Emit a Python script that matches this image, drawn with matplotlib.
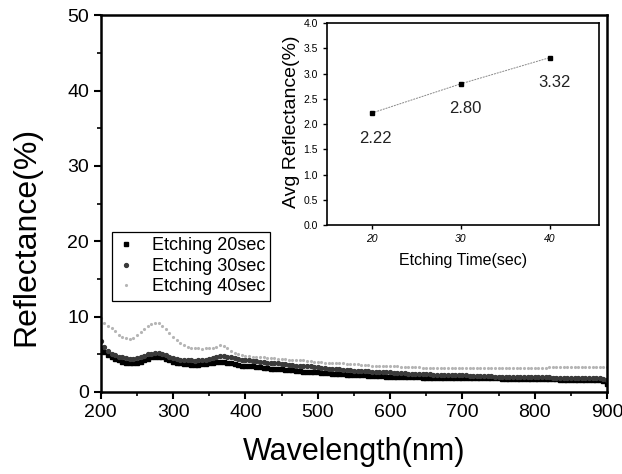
import numpy as np
import matplotlib
matplotlib.use('Agg')
import matplotlib.pyplot as plt

plt.rcParams['font.family'] = ['Liberation Sans', 'DejaVu Sans']

# wavelength grid of the spectra (nm), one reading every 5 nm
wavelength = np.arange(200, 905, 5)

# reflectance (%)
refl_20 = [5.8, 5.3, 4.9, 4.6, 4.4, 4.2, 4.0, 3.9, 3.8, 3.8,
           3.9, 4.0, 4.2, 4.4, 4.6, 4.7, 4.7, 4.6, 4.4, 4.2,
           4.0, 3.9, 3.8, 3.7, 3.7, 3.6, 3.6, 3.6, 3.7, 3.7,
           3.8, 3.9, 4.0, 4.0, 4.0, 3.9, 3.8, 3.7, 3.6, 3.5,
           3.5, 3.4, 3.4, 3.3, 3.3, 3.2, 3.2, 3.1, 3.1, 3.0,
           3.0, 2.9, 2.9, 2.9, 2.8, 2.8, 2.7, 2.7, 2.7, 2.6,
           2.6, 2.55, 2.5, 2.5, 2.45, 2.4, 2.4, 2.35, 2.3, 2.3,
           2.25, 2.25, 2.2, 2.2, 2.15, 2.15, 2.1, 2.1, 2.1, 2.05,
           2.05, 2.0, 2.0, 2.0, 2.0, 1.95, 1.95, 1.95, 1.95, 1.9,
           1.9, 1.9, 1.9, 1.9, 1.9, 1.9, 1.85, 1.85, 1.85, 1.85,
           1.85, 1.85, 1.85, 1.8, 1.8, 1.8, 1.8, 1.8, 1.8, 1.8,
           1.8, 1.75, 1.75, 1.75, 1.75, 1.75, 1.75, 1.75, 1.75, 1.7,
           1.7, 1.7, 1.7, 1.7, 1.7, 1.7, 1.7, 1.65, 1.65, 1.65,
           1.65, 1.65, 1.65, 1.6, 1.6, 1.6, 1.6, 1.6, 1.55, 1.5,
           1.0]

refl_30 = [6.8, 6.0, 5.5, 5.1, 4.9, 4.7, 4.6, 4.5, 4.4, 4.4,
           4.5, 4.6, 4.8, 5.0, 5.1, 5.2, 5.2, 5.1, 4.9, 4.7,
           4.5, 4.4, 4.3, 4.2, 4.2, 4.2, 4.1, 4.2, 4.2, 4.3,
           4.4, 4.5, 4.7, 4.8, 4.8, 4.7, 4.6, 4.5, 4.4, 4.3,
           4.2, 4.2, 4.1, 4.1, 4.0, 4.0, 3.9, 3.9, 3.8, 3.8,
           3.7, 3.7, 3.6, 3.6, 3.5, 3.5, 3.4, 3.4, 3.4, 3.3,
           3.3, 3.2, 3.2, 3.1, 3.1, 3.0, 3.0, 2.95, 2.9, 2.9,
           2.85, 2.8, 2.8, 2.75, 2.75, 2.7, 2.7, 2.65, 2.65, 2.6,
           2.6, 2.55, 2.55, 2.5, 2.5, 2.45, 2.45, 2.4, 2.4, 2.4,
           2.35, 2.35, 2.3, 2.3, 2.3, 2.25, 2.25, 2.25, 2.2, 2.2,
           2.2, 2.2, 2.15, 2.15, 2.15, 2.1, 2.1, 2.1, 2.1, 2.05,
           2.05, 2.05, 2.05, 2.05, 2.0, 2.0, 2.0, 2.0, 2.0, 2.0,
           1.95, 1.95, 1.95, 1.95, 1.95, 1.9, 1.9, 1.9, 1.9, 1.9,
           1.9, 1.85, 1.85, 1.85, 1.85, 1.85, 1.8, 1.8, 1.8, 1.75,
           1.6]

refl_40 = [9.8, 9.1, 8.7, 8.5, 8.1, 7.6, 7.3, 7.1, 7.0, 7.2,
           7.5, 7.9, 8.3, 8.7, 9.0, 9.2, 9.1, 8.8, 8.3, 7.8,
           7.3, 6.9, 6.5, 6.2, 6.0, 5.9, 5.8, 5.8, 5.7, 5.8,
           5.8, 5.9, 6.0, 6.2, 6.1, 5.8, 5.5, 5.2, 5.0, 4.9,
           4.8, 4.8, 4.7, 4.7, 4.6, 4.6, 4.5, 4.5, 4.5, 4.4,
           4.4, 4.4, 4.3, 4.3, 4.3, 4.2, 4.2, 4.1, 4.1, 4.0,
           4.0, 4.0, 3.9, 3.9, 3.9, 3.8, 3.8, 3.8, 3.7, 3.7,
           3.7, 3.7, 3.6, 3.6, 3.6, 3.5, 3.5, 3.5, 3.5, 3.4,
           3.4, 3.4, 3.4, 3.3, 3.3, 3.3, 3.3, 3.3, 3.3, 3.2,
           3.2, 3.2, 3.2, 3.2, 3.2, 3.2, 3.2, 3.2, 3.2, 3.2,
           3.2, 3.2, 3.2, 3.2, 3.2, 3.2, 3.2, 3.2, 3.2, 3.2,
           3.2, 3.2, 3.2, 3.2, 3.2, 3.25, 3.25, 3.25, 3.25, 3.25,
           3.25, 3.25, 3.25, 3.25, 3.3, 3.3, 3.3, 3.3, 3.3, 3.3,
           3.3, 3.3, 3.3, 3.3, 3.3, 3.3, 3.3, 3.3, 3.3, 3.3,
           3.3]

series_labels = ['Etching 20sec', 'Etching 30sec', 'Etching 40sec']

# inset: average reflectance vs etching time
etch_time = [20, 30, 40]
avg_refl = [2.22, 2.80, 3.32]
avg_labels = ['2.22', '2.80', '3.32']

fig = plt.figure(figsize=(6.22, 4.74), dpi=100)
ax = fig.add_axes([0.162, 0.173, 0.814, 0.795])

ax.plot(wavelength, refl_20, ls='none', marker='s', ms=3.0, color='black', label=series_labels[0])
ax.plot(wavelength, refl_30, ls='none', marker='o', ms=2.8, color='#3a3a3a', label=series_labels[1])
ax.plot(wavelength, refl_40, ls='none', marker='.', ms=2.5, color='#b5b5b5', label=series_labels[2])

ax.set_xlim(200, 900)
ax.set_ylim(0, 50)
ax.set_xticks(range(200, 901, 100))
ax.set_xticks(range(250, 900, 100), minor=True)
ax.set_yticks(range(0, 51, 10))
ax.set_yticks(range(5, 50, 10), minor=True)
ax.tick_params(which='major', direction='out', length=5, width=1.5, labelsize=14)
ax.tick_params(which='minor', direction='out', length=3, width=1.2)
for s in ax.spines.values():
    s.set_linewidth(1.8)
ax.set_xlabel('Wavelength(nm)', fontsize=22, labelpad=12)
ax.set_ylabel('Reflectance(%)', fontsize=23)
ax.yaxis.set_label_coords(-0.118, 0.414)

leg = ax.legend(loc='upper left', bbox_to_anchor=(0.022, 0.425), fontsize=13,
                frameon=True, fancybox=False, edgecolor='black', framealpha=1,
                handlelength=1.0, handletextpad=0.9, labelspacing=0.2,
                borderpad=0.3, borderaxespad=0, markerscale=1.0)
leg.get_frame().set_linewidth(0.9)

# inset
axi = fig.add_axes([0.526, 0.525, 0.437, 0.426])
axi.plot(etch_time, avg_refl, color='#888888', lw=0.7, ls=(0, (2, 1)),
         marker='s', ms=3.5, mfc='black', mec='black')
for t, v, lab in zip(etch_time, avg_refl, avg_labels):
    axi.annotate(lab, (t, v), xytext=(3, -18), textcoords='offset points',
                 ha='center', va='center', fontsize=12, color='#222222')
axi.set_xlim(15, 45.5)
axi.set_ylim(0, 4.0)
axi.set_xticks(etch_time)
axi.set_yticks(np.arange(0, 4.01, 0.5))
axi.set_yticklabels(['%.1f' % v for v in np.arange(0, 4.01, 0.5)])
axi.tick_params(direction='out', length=3, width=1, labelsize=7.5)
for lab in axi.get_xticklabels():
    lab.set_style('italic')
for s in axi.spines.values():
    s.set_linewidth(1.2)
axi.set_xlabel('Etching Time(sec)', fontsize=11.5, labelpad=6)
axi.set_ylabel('Avg Reflectance(%)', fontsize=14)
axi.yaxis.set_label_coords(-0.1, 0.51)

fig.savefig('out.png', dpi=100)
